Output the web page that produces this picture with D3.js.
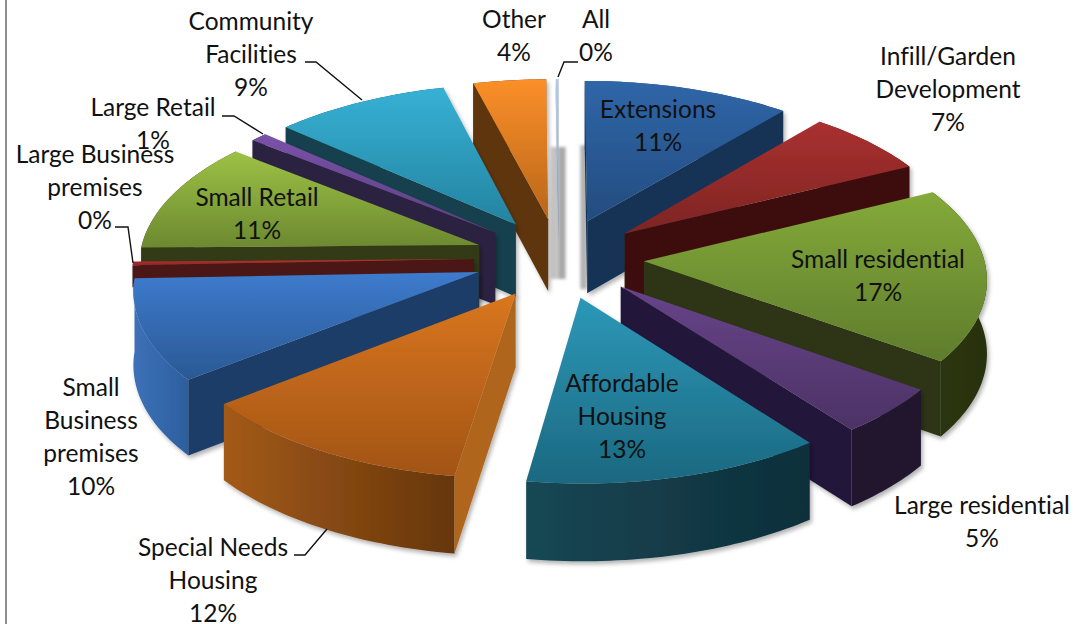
<!DOCTYPE html>
<html>
<head>
<meta charset="utf-8">
<script src="https://cdn.jsdelivr.net/npm/d3@7/dist/d3.min.js"></script>
<style>
html,body{margin:0;padding:0;background:#fff;}
svg{display:block;}
text{font-family:Lato,"Open Sans",sans-serif;font-size:24.5px;fill:#111;text-anchor:middle;font-variant-ligatures:none;}
</style>
</head>
<body>
<svg id="chart" width="1077" height="624"></svg>
<script>
// Data
const categories = ["Extensions","Infill/Garden Development","Small residential","Large residential","Affordable Housing","Special Needs Housing","Small Business premises","Large Business premises","Small Retail","Large Retail","Community Facilities","Other","All"];
const values = [11,6.6,17.4,4.7,12.65,11.95,10.1,0.35,11.05,0.9,9.3,3.85,0.15];
const percentLabels = ["11%","7%","17%","5%","13%","12%","10%","0%","11%","1%","9%","4%","0%"];
const labelLines = [["Extensions"],["Infill/Garden","Development"],["Small residential"],["Large residential"],["Affordable","Housing"],["Special Needs","Housing"],["Small","Business","premises"],["Large Business","premises"],["Small Retail"],["Large Retail"],["Community","Facilities"],["Other"],["All"]];

// Styles
const topLight = ["#2f66a8","#aa3030","#84aa3a","#674489","#2d98b8","#d9761f","#3d7bcd","#bb3232","#9cc245","#7a52a8","#36b1d5","#fb8f29","#b4c8e4"];
const topDark  = ["#244c80","#7d2523","#5f7c2c","#4c3265","#1b6880","#a25416","#2a5994","#8f2624","#6c8930","#5d3f80","#2483a0","#b9661a","#8fa8cc"];
const wallSide = ["#163354","#3e100f","#2d3612","#21173a","#123e4c","#b0651a","#1d3c68","#4b1513","#313a14","#2c2040","#143f4d","#5e340e","#8090a8"];
const wallArcL = ["#27558e","#5a1a18","#2c3612","#20162e","#154754","#a35a18","#3d71b8","#4b1513","#3a4518","#2c2040","#1a5060","#6e3e10","#8090a8"];
const wallArcR = ["#1e4270","#451110","#283210","#20162e","#0f2f3a","#66360c","#2c5f9f","#4b1513","#313a14","#2c2040","#143f4d","#5e340e","#8090a8"];

// Label layout: centre x, centre y of the first line
const labelPos = [[658,110],[948,57],[878,260],[982,506],[622,384],[213,548],[91,388],[95,155],[257,198],[153,108],[251,22],[514,20],[596,20]];
const leaderLines = [
  [[305,62],[316,62],[362,100]],
  [[222,116],[234,116],[263,134]],
  [[115,227],[128,227],[133,263]],
  [[578,62],[564,62],[558,77]],
  [[294,555],[305,555],[327,529]]
];

const W=1077,H=624;
const cx=559,cy=258,k=0.471,p=0.000279,R=340,E=85,depth=73,lineH=33;
const TAU=Math.PI*2;

const svg=d3.select("#chart");
const defs=svg.append("defs");
const shadow=defs.append("filter").attr("id","sh").attr("x","-10%").attr("y","-10%").attr("width","120%").attr("height","120%");
shadow.append("feDropShadow").attr("dx",2).attr("dy",3).attr("stdDeviation",2).attr("flood-color","#000").attr("flood-opacity",0.3);
const blur=defs.append("filter").attr("id","bl").attr("x","-50%").attr("y","-10%").attr("width","200%").attr("height","120%");
blur.append("feGaussianBlur").attr("stdDeviation",1.4);

// Page frame line on the left
svg.append("line").attr("x1",6).attr("x2",6).attr("y1",0).attr("y2",H).attr("stroke","#8e8e8e").attr("stroke-width",2);

const pie=d3.pie().sort(null).value(d=>d).startAngle(0).endAngle(TAU);
const arcs=pie(values).map((a,i)=>{
  const mid=(a.startAngle+a.endAngle)/2;
  return {i,a0:a.startAngle,a1:a.endAngle,ex:E*Math.sin(mid),ey:-E*Math.cos(mid)};
});
function proj(a,r,d){
  const u=a.ex+r*Math.sin(d), v=a.ey-r*Math.cos(d);
  const s=1/(1-v*p);
  return [cx+u*s, cy+v*k*s, s];
}
const top2=q=>[q[0],q[1]];
const path=d3.line().curve(d3.curveLinear);

function arcPts(a){
  const n=Math.max(2,Math.ceil((a.a1-a.a0)/0.02));
  return d3.range(n+1).map(j=>proj(a,R,a.a0+(a.a1-a.a0)*j/n));
}
// Radial wall is drawn only when it faces the viewer: extrusion points away from the slice interior
function wallVisible(apex,e,inner){
  const dx=e[0]-apex[0],dy=e[1]-apex[1];
  const sideIn=dx*(inner[1]-apex[1])-dy*(inner[0]-apex[0]);
  const sideDown=dx; // cross of edge with (0,1)
  return sideIn*sideDown<0;
}

// Soft grey strips behind the thinnest slice and the first slice
const all=arcs[12], ext=arcs[0];
const allApex=proj(all,0,0), extApex=proj(ext,0,0);
const stripG=svg.append("g").attr("filter","url(#bl)");
stripG.append("path").attr("fill","#c4c4c4").attr("d",path([[allApex[0]-8,allApex[1]-72],[allApex[0],allApex[1]-72],[allApex[0],allApex[1]+60],[allApex[0]-8,allApex[1]+60]]));
stripG.append("path").attr("fill","#a8a8a8").attr("d",path([[allApex[0],allApex[1]-72],[allApex[0]+7,allApex[1]-72],[allApex[0]+7,allApex[1]+60],[allApex[0],allApex[1]+60]]));
stripG.append("path").attr("fill","#b4b4b4").attr("d",path([[extApex[0]-7,extApex[1]-76],[extApex[0],extApex[1]-76],[extApex[0],extApex[1]+68],[extApex[0]-7,extApex[1]+68]]));

// Gradients
arcs.forEach(a=>{
  const g=defs.append("linearGradient").attr("id","t"+a.i).attr("x1",0).attr("x2",0).attr("y1",0).attr("y2",1);
  g.append("stop").attr("offset",0).attr("stop-color",topLight[a.i]);
  g.append("stop").attr("offset",1).attr("stop-color",topDark[a.i]);
  const w=defs.append("linearGradient").attr("id","w"+a.i).attr("x1",0).attr("x2",1).attr("y1",0).attr("y2",0);
  w.append("stop").attr("offset",0).attr("stop-color",wallArcL[a.i]);
  w.append("stop").attr("offset",1).attr("stop-color",wallArcR[a.i]);
});

// Back to front
const order=arcs.slice().sort((a,b)=>a.ey-b.ey);
const pieG=svg.append("g");
order.forEach(a=>{
  const g=pieG.append("g").attr("filter","url(#sh)");
  const thin=a.a1-a.a0<=0.03;
  // slimmest slices only show a short strip of wall above the next slice
  const low=q=>[q[0],q[1]+(thin?22:depth)*Math.sqrt(q[2])];
  const apex=proj(a,0,0), s0=proj(a,R,a.a0), s1=proj(a,R,a.a1);
  const inner=proj(a,R*0.7,(a.a0+a.a1)/2);
  const pts=arcPts(a);
  // outer wall
  if(!thin){
    g.append("path").attr("fill",`url(#w${a.i})`).attr("d",path(pts.map(top2).concat(pts.map(low).reverse()))+"Z");
  }
  // radial walls
  [s0,s1].forEach(e=>{
    if(wallVisible(apex,e,inner)){
      g.append("path").attr("fill",wallSide[a.i]).attr("d",path([top2(apex),top2(e),low(e),low(apex)])+"Z");
    }
  });
  // top face
  g.append("path").attr("fill",`url(#t${a.i})`).attr("d",path([top2(apex)].concat(pts.map(top2)))+"Z");
});

// Leader lines
svg.append("g").selectAll("path").data(leaderLines).join("path")
  .attr("fill","none").attr("stroke","#111").attr("stroke-width",1.4).attr("d",d=>path(d));

// Labels
const lab=svg.append("g");
arcs.forEach(a=>{
  const [x,y]=labelPos[a.i];
  const t=lab.append("text").attr("x",x);
  labelLines[a.i].concat([percentLabels[a.i]]).forEach((l,j)=>{
    t.append("tspan").attr("x",x).attr("y",y+j*lineH+8).text(l);
  });
});
</script>
</body>
</html>
